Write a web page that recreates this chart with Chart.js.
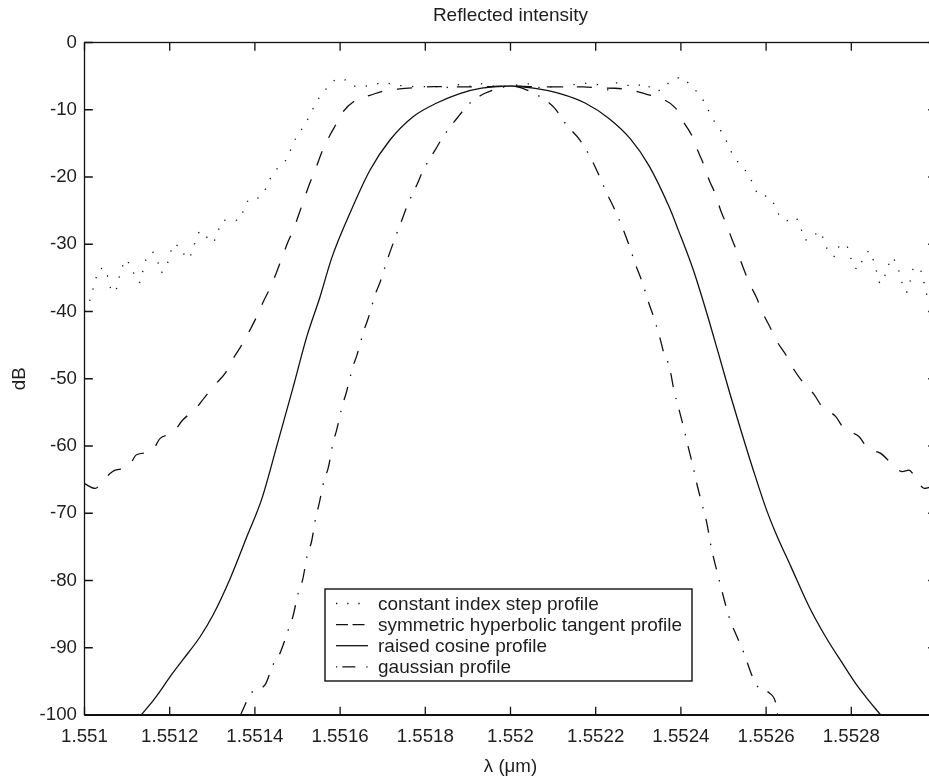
<!DOCTYPE html>
<html><head><meta charset="utf-8">
<script src="https://cdn.jsdelivr.net/npm/chart.js@4.4.1/dist/chart.umd.min.js"></script>
<style>
html,body{margin:0;padding:0;background:#fff;overflow:hidden;width:929px;height:782px}
#wrap{position:absolute;left:0;top:0;width:950px;height:782px}
canvas{display:block}
</style>
</head><body><div id="wrap"><canvas id="c" width="950" height="782" style="width:950px;height:782px"></canvas></div>
<script>
// ---- tick labels ----
const xTickValues = [1.551, 1.5512, 1.5514, 1.5516, 1.5518, 1.552, 1.5522, 1.5524, 1.5526, 1.5528];
const xTickLabels = ['1.551', '1.5512', '1.5514', '1.5516', '1.5518', '1.552', '1.5522', '1.5524', '1.5526', '1.5528'];
const yTickValues = [0, -10, -20, -30, -40, -50, -60, -70, -80, -90, -100];
const yTickLabels = ['0', '-10', '-20', '-30', '-40', '-50', '-60', '-70', '-80', '-90', '-100'];
const seriesNames = ['constant index step profile', 'symmetric hyperbolic tangent profile', 'raised cosine profile', 'gaussian profile'];

// ---- constant index step profile (dotted) ----
const stepLambda = [1.551000, 1.551011, 1.551024, 1.551033, 1.551047, 1.551054, 1.551061, 1.551073, 1.551079, 1.551086,
  1.551097, 1.551112, 1.551119, 1.551130, 1.551137, 1.551144, 1.551160, 1.551172, 1.551180, 1.551193,
  1.551200, 1.551209, 1.551227, 1.551238, 1.551251, 1.551259, 1.551270, 1.551288, 1.551303, 1.551313,
  1.551323, 1.551344, 1.551362, 1.551374, 1.551385, 1.551410, 1.551426, 1.551437, 1.551454, 1.551473,
  1.551485, 1.551496, 1.551512, 1.551527, 1.551539, 1.551553, 1.551570, 1.551590, 1.551617, 1.551637,
  1.551674, 1.551700, 1.551739, 1.551781, 1.551823, 1.551842, 1.551870, 1.551905, 1.551928, 1.551971,
  1.552003, 1.552050, 1.552065, 1.552085, 1.552124, 1.552167, 1.552210, 1.552230, 1.552249, 1.552292,
  1.552316, 1.552335, 1.552355, 1.552374, 1.552400, 1.552421, 1.552440, 1.552457, 1.552468, 1.552482,
  1.552499, 1.552511, 1.552522, 1.552539, 1.552558, 1.552569, 1.552581, 1.552607, 1.552623, 1.552632,
  1.552649, 1.552671, 1.552682, 1.552691, 1.552707, 1.552724, 1.552738, 1.552745, 1.552762, 1.552771,
  1.552789, 1.552797, 1.552805, 1.552817, 1.552827, 1.552841, 1.552853, 1.552860, 1.552867, 1.552877,
  1.552885, 1.552898, 1.552910, 1.552917, 1.552924, 1.552931, 1.552938, 1.552945, 1.552961, 1.552969,
  1.552975, 1.552981, 1.553000];
const stepDb = [-40.0, -38.7, -35.7, -33.7, -33.5, -34.7, -36.5, -37.2, -35.5, -33.7,
  -32.2, -33.5, -35.2, -35.7, -34.0, -32.3, -31.1, -32.6, -34.3, -33.3,
  -31.6, -29.9, -30.5, -32.2, -31.5, -29.8, -28.0, -29.0, -29.8, -28.1,
  -26.5, -26.3, -26.5, -24.9, -23.3, -23.1, -21.7, -20.1, -18.6, -17.5,
  -15.8, -14.2, -12.7, -11.1, -9.5, -8.0, -6.7, -5.4, -5.6, -6.6,
  -6.4, -5.9, -6.4, -6.6, -6.5, -6.9, -6.2, -6.5, -6.1, -6.6,
  -6.4, -6.1, -6.7, -6.6, -6.6, -6.0, -6.3, -7.1, -6.0, -6.6,
  -6.0, -7.2, -7.1, -5.8, -5.1, -6.2, -7.5, -9.0, -10.6, -12.1,
  -13.6, -15.2, -16.8, -18.2, -19.5, -21.0, -22.7, -22.9, -24.4, -26.0,
  -26.5, -26.0, -27.7, -29.4, -29.1, -28.0, -29.5, -31.2, -31.9, -30.3,
  -30.0, -31.7, -33.4, -33.8, -32.2, -30.9, -32.5, -34.2, -35.9, -35.1,
  -33.3, -31.9, -33.6, -35.2, -37.0, -37.1, -35.5, -33.7, -33.4, -35.2,
  -36.9, -38.5, -40.0];

// ---- symmetric hyperbolic tangent profile (dashed) ----
const tanhLambda = [1.551000, 1.551025, 1.551048, 1.551072, 1.551103, 1.551122, 1.551158, 1.551177, 1.551208, 1.551231,
  1.551259, 1.551283, 1.551306, 1.551330, 1.551349, 1.551369, 1.551388, 1.551404, 1.551420, 1.551435,
  1.551450, 1.551463, 1.551478, 1.551490, 1.551504, 1.551515, 1.551529, 1.551543, 1.551559, 1.551576,
  1.551592, 1.551607, 1.551639, 1.551670, 1.551709, 1.551745, 1.551780, 1.551819, 1.551905, 1.552000,
  1.552093, 1.552171, 1.552206, 1.552245, 1.552281, 1.552320, 1.552355, 1.552388, 1.552403, 1.552427,
  1.552439, 1.552454, 1.552466, 1.552482, 1.552493, 1.552509, 1.552519, 1.552535, 1.552547, 1.552561,
  1.552578, 1.552593, 1.552609, 1.552626, 1.552647, 1.552666, 1.552685, 1.552712, 1.552732, 1.552763,
  1.552783, 1.552818, 1.552838, 1.552869, 1.552893, 1.552920, 1.552935, 1.552947, 1.552971, 1.553000];
const tanhDb = [-65.6, -66.3, -64.8, -63.6, -63.1, -61.3, -60.8, -58.9, -58.0, -56.1,
  -54.6, -52.7, -50.9, -49.2, -47.0, -45.0, -42.8, -40.8, -38.5, -36.6,
  -34.3, -32.1, -29.6, -27.9, -25.4, -23.4, -20.9, -18.7, -16.0, -13.8,
  -12.0, -10.3, -8.5, -7.85, -7.1, -6.87, -6.7, -6.57, -6.6, -6.5,
  -6.6, -6.6, -6.75, -6.8, -7.06, -7.7, -8.35, -9.8, -11.5, -14.0,
  -16.0, -18.2, -20.4, -22.7, -24.9, -27.4, -29.1, -31.6, -33.6, -35.8,
  -38.0, -40.3, -42.3, -44.5, -46.5, -48.7, -50.4, -52.3, -54.2, -55.6,
  -57.4, -58.6, -60.3, -61.1, -62.5, -63.8, -63.6, -64.3, -66.3, -65.8];

// ---- raised cosine profile (solid) ----
const cosLambda = [1.551133, 1.551162, 1.551177, 1.551201, 1.551232, 1.551271, 1.551302, 1.551342, 1.551381, 1.551416,
  1.551451, 1.551490, 1.551522, 1.551553, 1.551580, 1.551623, 1.551670, 1.551717, 1.551772, 1.551827,
  1.551881, 1.551932, 1.552000, 1.552054, 1.552116, 1.552175, 1.552231, 1.552281, 1.552325, 1.552372,
  1.552394, 1.552429, 1.552461, 1.552488, 1.552515, 1.552543, 1.552570, 1.552601, 1.552623, 1.552658,
  1.552701, 1.552740, 1.552779, 1.552810, 1.552834, 1.552869];
const cosDb = [-100, -97.8, -96.5, -94.3, -91.7, -88.4, -85.1, -79.7, -73.5, -67.9,
  -60.1, -51.2, -43.7, -37.8, -32.1, -25.4, -19.0, -14.5, -11.0, -9.0,
  -7.6, -6.8, -6.47, -6.8, -7.6, -9.0, -11.3, -14.3, -18.3, -24.4,
  -27.9, -33.8, -40.3, -46.2, -52.2, -58.1, -63.6, -69.5, -73.0, -77.9,
  -83.9, -88.4, -92.3, -95.3, -97.3, -100];

// ---- gaussian profile (dash-dot) ----
const gaussLambda = [1.551366, 1.551392, 1.551424, 1.551442, 1.551459, 1.551478, 1.551489, 1.551502, 1.551512, 1.551523,
  1.551533, 1.551543, 1.551550, 1.551563, 1.551572, 1.551584, 1.551592, 1.551606, 1.551614, 1.551630,
  1.551639, 1.551656, 1.551666, 1.551684, 1.551694, 1.551713, 1.551733, 1.551745, 1.551760, 1.551780,
  1.551795, 1.551823, 1.551842, 1.551874, 1.551905, 1.551940, 1.551975, 1.552000, 1.552062, 1.552104,
  1.552132, 1.552163, 1.552187, 1.552206, 1.552226, 1.552245, 1.552262, 1.552278, 1.552294, 1.552309,
  1.552325, 1.552337, 1.552351, 1.552360, 1.552373, 1.552384, 1.552394, 1.552407, 1.552417, 1.552428,
  1.552437, 1.552449, 1.552461, 1.552471, 1.552489, 1.552513, 1.552532, 1.552548, 1.552568, 1.552583,
  1.552607, 1.552623, 1.552627];
const gaussDb = [-100, -96.7, -95.5, -92.6, -90.8, -87.4, -85.4, -81.8, -79.9, -76.2,
  -74.2, -70.6, -68.8, -65.0, -63.3, -59.4, -57.6, -53.8, -52.2, -48.2,
  -46.6, -42.8, -41.0, -37.2, -35.6, -31.9, -28.4, -26.4, -23.9, -21.2,
  -19.0, -16.0, -14.0, -11.3, -9.0, -7.55, -6.77, -6.47, -7.8, -9.8,
  -12.3, -14.5, -17.0, -19.5, -22.4, -24.9, -27.4, -30.1, -33.1, -35.6,
  -38.8, -41.0, -44.0, -46.2, -48.2, -51.8, -54.2, -57.4, -60.1, -62.9,
  -65.5, -68.5, -71.5, -75.0, -79.7, -85.4, -88.4, -90.8, -94.3, -96.0,
  -96.7, -98.3, -100];

const FONT = '"Liberation Sans", Arial, Helvetica, sans-serif';
const INK = '#111';
const TXT = '#1e1e1e';

function pts(xs, ys) { return xs.map((x, i) => ({x: x, y: ys[i]})); }

const legendDashes = [[1.3, 9.9], [12, 4.5], [], [1.3, 5, 13, 11]];

const frameLegend = {
  id: 'frameLegend',
  afterDatasetsDraw(chart) {
    const {ctx, chartArea: a, scales} = chart;
    const xs = scales.x, ys = scales.y;
    ctx.save();
    ctx.strokeStyle = INK;
    ctx.lineWidth = 1.3;
    ctx.setLineDash([]);
    ctx.strokeRect(a.left, a.top, a.right - a.left, a.bottom - a.top);
    ctx.lineWidth = 2;
    ctx.beginPath(); ctx.moveTo(a.left, a.bottom); ctx.lineTo(a.right, a.bottom); ctx.stroke();
    ctx.lineWidth = 1.3;
    const tl = 8.3;
    ctx.beginPath();
    xTickValues.forEach(v => {
      const p = xs.getPixelForValue(v);
      ctx.moveTo(p, a.bottom); ctx.lineTo(p, a.bottom - tl);
      ctx.moveTo(p, a.top); ctx.lineTo(p, a.top + tl);
    });
    yTickValues.forEach(v => {
      const p = ys.getPixelForValue(v);
      ctx.moveTo(a.left, p); ctx.lineTo(a.left + tl, p);
      ctx.moveTo(a.right, p); ctx.lineTo(a.right - tl, p);
    });
    ctx.stroke();

    // legend box
    const bx = 325, by = 589, bw = 367, bh = 92;
    ctx.fillStyle = '#fff';
    ctx.fillRect(bx, by, bw, bh);
    ctx.lineWidth = 1.4;
    ctx.strokeRect(bx, by, bw, bh);
    ctx.font = '19px ' + FONT;
    ctx.textBaseline = 'alphabetic';
    ctx.textAlign = 'left';
    for (let i = 0; i < seriesNames.length; i++) {
      const base = 609.5 + i * 21.1;
      const ly = base - 6;
      ctx.strokeStyle = INK;
      ctx.lineWidth = 1.3;
      ctx.setLineDash(legendDashes[i]);
      ctx.beginPath(); ctx.moveTo(336, ly); ctx.lineTo(368, ly); ctx.stroke();
      ctx.setLineDash([]);
      ctx.fillStyle = TXT;
      ctx.fillText(seriesNames[i], 378, base);
    }
    ctx.restore();
  }
};

const tickFont = {family: FONT, size: 18.7};
const common = {borderColor: INK, borderWidth: 1.3, pointRadius: 0, fill: false, borderCapStyle: 'butt', borderJoinStyle: 'round'};

new Chart(document.getElementById('c'), {
  type: 'line',
  data: {
    datasets: [
      Object.assign({label: seriesNames[0], data: pts(stepLambda, stepDb), borderDash: [1.3, 10.5], tension: 0}, common),
      Object.assign({label: seriesNames[1], data: pts(tanhLambda, tanhDb), borderDash: [15, 15], cubicInterpolationMode: 'monotone'}, common),
      Object.assign({label: seriesNames[2], data: pts(cosLambda, cosDb), borderDash: [], cubicInterpolationMode: 'monotone'}, common),
      Object.assign({label: seriesNames[3], data: pts(gaussLambda, gaussDb), borderDash: [14, 11, 1.5, 11], cubicInterpolationMode: 'monotone'}, common)
    ]
  },
  options: {
    responsive: false,
    animation: false,
    events: [],
    devicePixelRatio: 1,
    layout: {padding: {left: 0, right: 13.5, top: 0, bottom: 0}},
    plugins: {
      legend: {display: false},
      tooltip: {enabled: false},
      title: {
        display: true, text: 'Reflected intensity', fullSize: false,
        color: TXT, font: {family: FONT, size: 19, weight: 'normal'},
        padding: {top: 4.6, bottom: 15.1}
      }
    },
    scales: {
      x: {
        type: 'linear', min: 1.551, max: 1.553,
        afterFit(s) { s.height = 67; },
        afterBuildTicks(s) { s.ticks = xTickValues.map(v => ({value: v})); },
        grid: {display: false, drawTicks: false, tickLength: 0},
        border: {display: false},
        ticks: {
          color: TXT, font: tickFont, padding: 10.2, maxRotation: 0, autoSkip: false,
          callback: (v, i) => xTickLabels[i]
        },
        title: {display: true, text: 'λ (μm)', color: TXT, font: tickFont, padding: {top: 0, bottom: 3.9}}
      },
      y: {
        type: 'linear', min: -100, max: 0,
        afterFit(s) { s.width = 84.5; },
        afterBuildTicks(s) { s.ticks = yTickValues.map(v => ({value: v})); },
        grid: {display: false, drawTicks: false, tickLength: 0},
        border: {display: false},
        ticks: {
          color: TXT, font: tickFont, padding: 7.5, autoSkip: false,
          callback: (v, i) => yTickLabels[i]
        },
        title: {display: true, text: 'dB', color: TXT, font: tickFont, padding: {top: 8.4, bottom: 0}}
      }
    }
  },
  plugins: [frameLegend]
});
</script>
</body></html>
